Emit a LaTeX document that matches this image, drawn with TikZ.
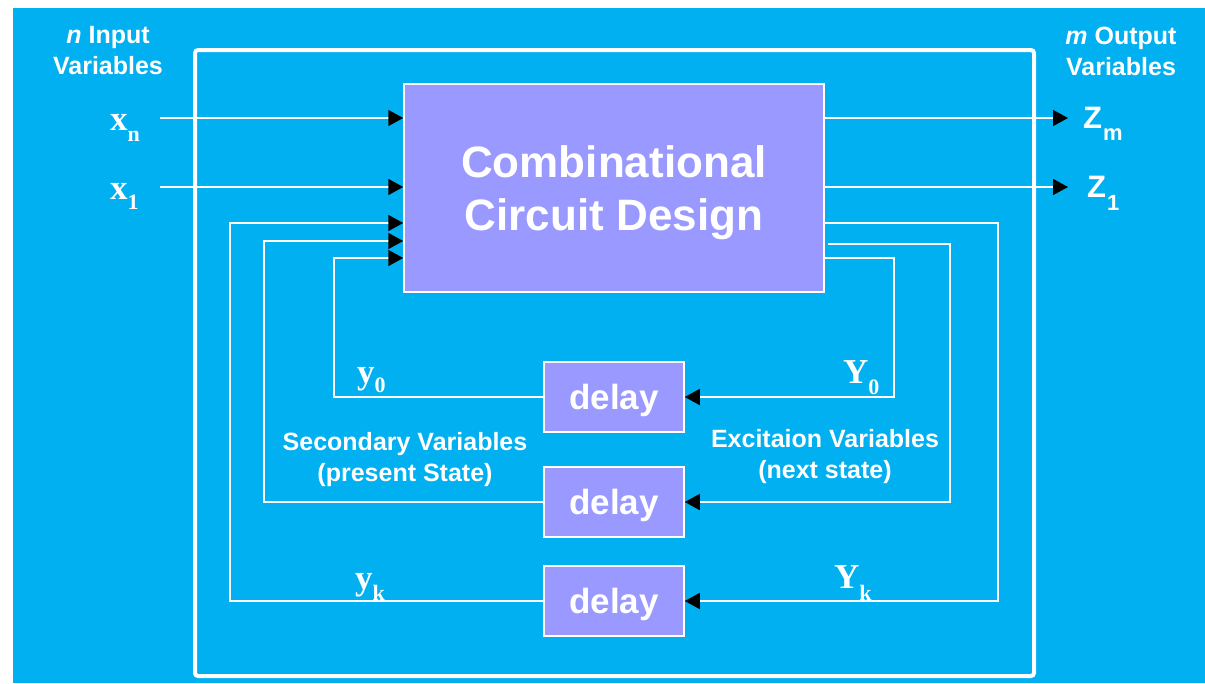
\documentclass[tikz,border=0pt]{standalone}
\usepackage{fontspec}
\setmainfont{Liberation Sans}
\newfontfamily\timesb{Liberation Serif}
\usetikzlibrary{arrows.meta}
\definecolor{cbg}{HTML}{00B0F0}
\definecolor{cbox}{HTML}{9999FF}
\tikzset{
  ccbox/.style={draw=white,line width=1.5pt,fill=cbox,minimum width=420pt,minimum height=208pt,text=white,align=center,text depth=0pt,font=\fontsize{44}{53}\selectfont\bfseries},
  dlybox/.style={draw=white,line width=1.5pt,fill=cbox,minimum width=140pt,minimum height=70pt,text=white,text depth=0pt,font=\fontsize{35}{35}\selectfont\bfseries},
  wire/.style={draw=white,line width=1.5pt},
  tipA/.style={-{Triangle[length=15pt,width=16pt,color=black]}},
  frame/.style={draw=white,line width=4pt,rounded corners=3pt},
  vlab/.style={text=white,align=center,inner sep=0pt,font=\fontsize{25}{31}\selectfont\bfseries},
  slab/.style={text=white,inner sep=0pt,anchor=base west,font=\fontsize{35}{35}\selectfont\bfseries\timesb},
  zlab/.style={text=white,inner sep=0pt,anchor=base west,font=\fontsize{31}{31}\selectfont\bfseries},
}
\newcommand{\vsub}[2]{\raisebox{#1}{\fontsize{22}{22}\selectfont #2}}

\begin{document}
\begin{tikzpicture}[x=1pt,y=-1pt]
% ---- canvas and outer frame
\useasboundingbox (0,0) rectangle (1205,683);
\fill[white] (0,0) rectangle (1205,683);
\fill[cbg] (13,8) rectangle (1205,683);
\draw[frame] (195,50) rectangle (1034,676);
% ---- blocks
\node[ccbox] (ccd) at (614,188) {Combinational\\Circuit Design};
\node[dlybox] (d0) at (614,397) {delay};
\node[dlybox] (d1) at (614,502) {delay};
\node[dlybox] (dk) at (614,601) {delay};
% ---- inputs
\coordinate (xin) at (160,118);
\coordinate (xi1) at (160,187);
\draw[wire,tipA] (xin) -- (xin -| ccd.west);
\draw[wire,tipA] (xi1) -- (xi1 -| ccd.west);
\node[vlab] (nin) at (108,51) {\textit{n} Input\\Variables};
\node[slab] (xn) at (110,130) {x\vsub{-11pt}{n}};
\node[slab] (x1) at (110,199) {x\vsub{-10pt}{1}};
% ---- outputs
\coordinate (zmt) at (1068,118);
\coordinate (z1t) at (1068,187);
\draw[wire,tipA] (zmt -| ccd.east) -- (zmt);
\draw[wire,tipA] (z1t -| ccd.east) -- (z1t);
\node[vlab] (mout) at (1121,51) {\textit{m} Output\\Variables};
\node[zlab] (zm) at (1083,128) {Z\hspace{1pt}\vsub{-12pt}{m}};
\node[zlab] (z1) at (1087,197) {Z\hspace{1pt}\vsub{-13pt}{1}};
% ---- feedback loops through the delays
\coordinate (c0) at (334,258);
\coordinate (c1) at (264,241);
\coordinate (ck) at (230,223);
\coordinate (e0) at (894,258);
\coordinate (e1) at (950,244);
\coordinate (ek) at (998,223);
\draw[wire,tipA] (d0.west) -| (c0) -- (c0 -| ccd.west);
\draw[wire,tipA] (d1.west) -| (c1) -- (c1 -| ccd.west);
\draw[wire,tipA] (dk.west) -| (ck) -- (ck -| ccd.west);
\draw[wire,tipA] (e0 -| ccd.east) -- (e0) |- (d0.east);
\draw[wire,tipA,shorten <=3pt] (e1 -| ccd.east) -- (e1) |- (d1.east);
\draw[wire,tipA] (ek -| ccd.east) -- (ek) |- (dk.east);
% ---- loop labels
\node[slab] (y0) at (357,383) {y\vsub{-9pt}{0}};
\node[slab] (Y0) at (843,383) {Y\vsub{-11pt}{0}};
\node[slab] (yk) at (355,589) {y\vsub{-11pt}{k}};
\node[slab] (Yk) at (834,588) {Y\vsub{-12pt}{k}};
\node[vlab] (sec) at (405,460) {Secondary Variables\\(present State)};
\node[vlab] (exc) at (825,457) {Excitaion Variables\\(next state)};
\end{tikzpicture}
\end{document}
